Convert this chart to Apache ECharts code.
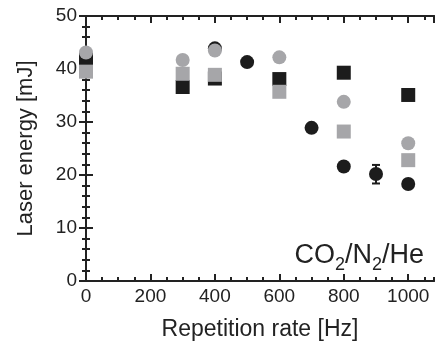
<!DOCTYPE html>
<html><head><meta charset="utf-8">
<script src="https://cdn.jsdelivr.net/npm/echarts@6/dist/echarts.min.js"></script>
<style>html,body{margin:0;padding:0;background:#fff}#c{width:439px;height:348px}</style>
</head><body><div id="c"></div>
<script>
// Data
const sqX = [0, 300, 400, 600, 800, 1000];
const blackSquares = [41.7, 36.6, 38.2, 38.1, 39.3, 35.1];
const graySquares = [39.5, 39.1, 38.9, 35.7, 28.2, 22.8];
const grayCircleX = [0, 300, 400, 600, 800, 1000];
const grayCircles = [43.1, 41.7, 43.5, 42.2, 33.8, 26.0];
const blackCircleX = [400, 500, 700, 800, 900, 1000];
const blackCircles = [43.9, 41.3, 28.9, 21.6, 20.2, 18.3];
const errX = [900];
const errLow = [18.4];
const errHigh = [21.9];
const xTicks = [0, 200, 400, 600, 800, 1000];
const yTicks = [0, 10, 20, 30, 40, 50];

const BLACK = '#1c1c1c', GRAY = '#a6a6a9', AX = '#222';
const font = 'Liberation Sans, Arial, sans-serif';
const zip = (xs, ys) => xs.map((x, i) => [x, ys[i]]);

const baseX = {
  type: 'value', min: 0, max: 1080,
  axisLine: { show: true, lineStyle: { color: AX, width: 2 } },
  splitLine: { show: false }
};
const chart = echarts.init(document.getElementById('c'), null, { renderer: 'canvas' });
chart.setOption({
  animation: false,
  grid: { left: 86, right: 5, top: 16, bottom: 67 },
  title: {
    text: '{a|CO}{s|2}{a|/N}{s|2}{a|/He}',
    right: 15, top: 242, padding: 0,
    textStyle: {
      fontWeight: 'normal',
      rich: {
        a: { fontFamily: font, fontSize: 27, fontWeight: 'normal', color: '#222', lineHeight: 32, verticalAlign: 'top' },
        s: { fontFamily: font, fontSize: 18, fontWeight: 'normal', color: '#222', lineHeight: 32, verticalAlign: 'top', padding: [14, 0, 0, 0] }
      }
    }
  },
  xAxis: [
    Object.assign({}, baseX, {
      position: 'bottom', interval: 200,
      axisTick: { show: true, inside: true, length: 7, lineStyle: { color: AX, width: 2 } },
      axisLabel: { show: true, margin: 6, fontFamily: font, fontSize: 19, color: '#222', showMaxLabel: false,
        formatter: v => xTicks.includes(v) ? String(v) : '' },
      name: 'Repetition rate [Hz]', nameLocation: 'middle', nameGap: 37,
      nameTextStyle: { fontFamily: font, fontSize: 23, color: '#222', verticalAlign: 'top' }
    }),
    Object.assign({}, baseX, {
      position: 'bottom', interval: 50,
      axisTick: { show: true, inside: true, length: 4, lineStyle: { color: AX, width: 2 } },
      axisLabel: { show: false }
    }),
    Object.assign({}, baseX, {
      position: 'top', interval: 200,
      axisTick: { show: true, inside: true, length: 7, lineStyle: { color: AX, width: 2 } },
      axisLabel: { show: false }
    }),
    Object.assign({}, baseX, {
      position: 'top', interval: 50,
      axisTick: { show: true, inside: true, length: 4, lineStyle: { color: AX, width: 2 } },
      axisLabel: { show: false }
    })
  ],
  yAxis: [
    {
      type: 'value', min: 0, max: 50, interval: 10, position: 'left',
      axisLine: { show: true, lineStyle: { color: AX, width: 2 } },
      axisTick: { show: true, inside: true, length: 7, lineStyle: { color: AX, width: 2 } },
      minorTick: { show: true, splitNumber: 5, length: 4, lineStyle: { color: AX, width: 2 } },
      splitLine: { show: false },
      axisLabel: { margin: 9, fontFamily: font, fontSize: 19, color: '#222',
        formatter: v => yTicks.includes(v) ? String(v) : '' },
      name: 'Laser energy [mJ]', nameLocation: 'middle', nameGap: 49,
      nameTextStyle: { fontFamily: font, fontSize: 22, color: '#222' }
    },
    {
      type: 'value', min: 0, max: 50, interval: 10, position: 'right',
      axisLine: { show: true, lineStyle: { color: AX, width: 2 } },
      axisTick: { show: true, inside: true, length: 7, lineStyle: { color: AX, width: 2 } },
      minorTick: { show: true, splitNumber: 5, length: 4, lineStyle: { color: AX, width: 2 } },
      splitLine: { show: false },
      axisLabel: { show: false }
    }
  ],
  series: [
    { type: 'scatter', symbol: 'rect', symbolSize: 14, itemStyle: { color: BLACK, opacity: 1 }, data: zip(sqX, blackSquares), z: 2 },
    { type: 'scatter', symbol: 'rect', symbolSize: 14, itemStyle: { color: GRAY, opacity: 1 }, data: zip(sqX, graySquares), z: 3 },
    {
      type: 'custom', z: 4,
      data: errX.map((x, i) => [x, errLow[i], errHigh[i]]),
      renderItem: (params, api) => {
        const lo = api.coord([api.value(0), api.value(1)]);
        const hi = api.coord([api.value(0), api.value(2)]);
        const w = 4;
        const st = { stroke: BLACK, lineWidth: 2 };
        return { type: 'group', children: [
          { type: 'line', shape: { x1: lo[0], y1: lo[1], x2: hi[0], y2: hi[1] }, style: st },
          { type: 'line', shape: { x1: lo[0] - w, y1: lo[1], x2: lo[0] + w, y2: lo[1] }, style: st },
          { type: 'line', shape: { x1: hi[0] - w, y1: hi[1], x2: hi[0] + w, y2: hi[1] }, style: st }
        ]};
      }
    },
    { type: 'scatter', symbol: 'circle', symbolSize: 14, itemStyle: { color: BLACK, opacity: 1 }, data: zip(blackCircleX, blackCircles), z: 5 },
    { type: 'scatter', symbol: 'circle', symbolSize: 14, itemStyle: { color: GRAY, opacity: 1 }, data: zip(grayCircleX, grayCircles), z: 6 }
  ]
});
</script>
</body></html>
